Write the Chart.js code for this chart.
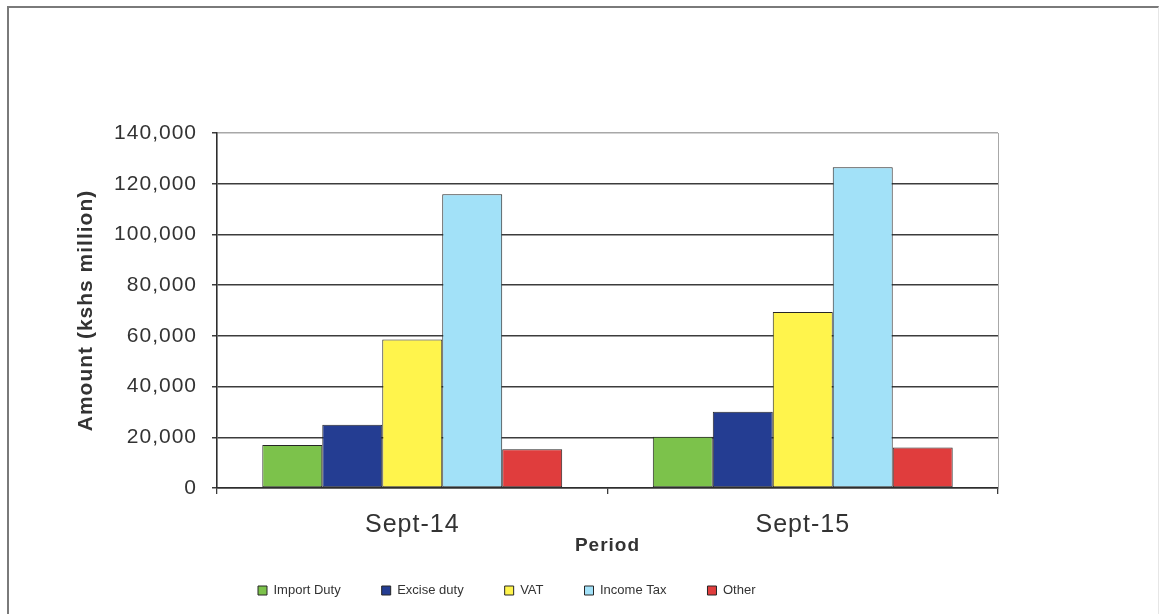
<!DOCTYPE html>
<html>
<head>
<meta charset="utf-8">
<script src="https://cdn.jsdelivr.net/npm/chart.js@4.4.1/dist/chart.umd.min.js"></script>
<style>
  html, body { margin: 0; padding: 0; background: #fff; }
  #wrap { position: relative; width: 1160px; height: 614px; overflow: hidden; }
  #frame {
    position: absolute; left: 7px; top: 6px; width: 1149px; height: 700px;
    border-left: 2px solid #7a7a7a; border-top: 2px solid #7a7a7a; border-right: 1px solid #e6e6e6;
    pointer-events: none;
  }
  canvas { position: absolute; left: 0; top: 0; }
</style>
</head>
<body>
<div id="wrap">
  <canvas id="revenueChart" width="1160" height="614"></canvas>
  <div id="frame"></div>
</div>
<script>
// revenue by tax type, two periods
const periods = ['Sept-14', 'Sept-15'];
const importDuty = [17000, 20200];
const exciseDuty = [24900, 30100];
const vat = [58600, 69400];
const incomeTax = [115800, 126500];
const other = [15300, 16000];
const yTicks = [0, 20000, 40000, 60000, 80000, 100000, 120000, 140000];

const FONT = "'Liberation Sans', Arial, sans-serif";
const INK = '#333';

// canvas resets its state on resize, so put the tracking back before layout and draw.
// the legend keeps plain spacing.
const tracking = {
  id: 'tracking',
  afterInit(chart) {
    const lg = chart.legend;
    ['fit', 'draw'].forEach(fn => {
      const orig = lg[fn];
      lg[fn] = function() {
        const c = this.ctx;
        const prev = c.letterSpacing;
        c.letterSpacing = '0px';
        orig.apply(this, arguments);
        c.letterSpacing = prev;
      };
    });
  },
  beforeLayout(chart) { chart.ctx.letterSpacing = '1px'; },
  beforeDraw(chart) { chart.ctx.letterSpacing = '1px'; }
};

function series(label, data, color) {
  return {
    label: label,
    data: data,
    backgroundColor: color,
    borderColor: '#262626',
    borderWidth: 1,
    borderSkipped: false,
    categoryPercentage: 0.768,
    barPercentage: 1.0
  };
}

document.addEventListener('DOMContentLoaded', function() {

  const revenueChart = document.getElementById('revenueChart');
  new Chart(revenueChart, {
    type: 'bar',
    data: {
      labels: periods,
      datasets: [
        series('Import Duty', importDuty, '#7cc24b'),
        series('Excise duty', exciseDuty, '#243d92'),
        series('VAT', vat, '#fff44c'),
        series('Income Tax', incomeTax, '#a2e1f8'),
        series('Other', other, '#e03d3d')
      ]
    },
    plugins: [tracking],
    options: {
      responsive: false,
      animation: false,
      layout: {
        padding: { left: 60, right: 162, top: 133, bottom: 7 }
      },
      plugins: {
        tooltip: { enabled: false },
        legend: {
          position: 'bottom',
          align: 'start',
          fullSize: false,
          labels: {
            boxWidth: 9,
            boxHeight: 9,
            padding: 41,
            color: INK,
            font: { family: FONT, size: 13 }
          }
        }
      },
      scales: {
        x: {
          grid: {
            offset: true,
            drawOnChartArea: false,
            tickLength: 6,
            color: '#3c3c3c',
            lineWidth: 1.3
          },
          border: { color: '#2e2e2e', width: 1.6 },
          ticks: {
            color: INK,
            padding: 16,
            font: { family: FONT, size: 25 }
          },
          title: {
            display: true,
            text: 'Period',
            color: INK,
            padding: { top: 0, bottom: -14 },
            font: { family: FONT, size: 19, weight: 'bold' }
          },
          afterFit(scale) { scale.height = 55; }
        },
        y: {
          min: 0,
          max: 140000,
          afterBuildTicks(scale) {
            scale.ticks = yTicks.map(v => ({ value: v }));
          },
          grid: {
            color: ctx => ctx.tick && ctx.tick.value === 140000 ? '#a8a8a8' : '#3c3c3c',
            tickColor: '#3c3c3c',
            lineWidth: 1.5,
            tickLength: 5
          },
          border: { color: '#2e2e2e', width: 1.6 },
          ticks: {
            color: INK,
            padding: 15,
            font: { family: FONT, size: 21 },
            callback: v => v.toLocaleString('en-US')
          },
          title: {
            display: true,
            text: 'Amount (kshs million)',
            color: INK,
            padding: { top: 14, bottom: 0 },
            font: { family: FONT, size: 21, weight: 'bold' }
          },
          afterFit(scale) { scale.width = 217 - 60; }
        },
        // thin frame line down the right edge of the plot
        yRight: {
          position: 'right',
          min: 0,
          max: 140000,
          ticks: { display: false },
          grid: { drawOnChartArea: false, drawTicks: false },
          border: { color: '#a8a8a8', width: 1 },
          afterFit(scale) { scale.width = 0; }
        }
      }
    }
  });

});
</script>
</body>
</html>
